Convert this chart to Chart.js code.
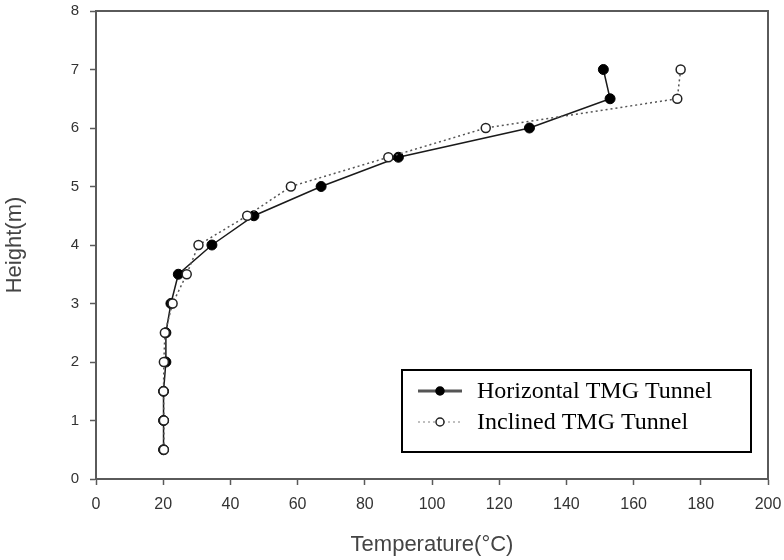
<!DOCTYPE html>
<html>
<head>
<meta charset="utf-8">
<script src="https://cdn.jsdelivr.net/npm/chart.js@4/dist/chart.umd.min.js"></script>
<style>
  html, body { margin: 0; padding: 0; background: #fff; }
  canvas { display: block; }
</style>
</head>
<body>
<canvas id="chart" width="784" height="560"></canvas>
<script>
// Heights (m) shared by both tunnels, top of the profile first
const HEIGHTS = [7, 6.5, 6, 5.5, 5, 4.5, 4, 3.5, 3, 2.5, 2, 1.5, 1, 0.5];
const HORIZONTAL_TEMP = [151, 153, 129, 90, 67, 47, 34.5, 24.5, 22.3, 20.8, 20.8, 20.1, 20.1, 20.1];
const INCLINED_TEMP = [174, 173, 116, 87, 58, 45, 30.5, 27, 22.8, 20.5, 20.2, 20.1, 20.2, 20.2];

const X_TICKS = [0, 20, 40, 60, 80, 100, 120, 140, 160, 180, 200];
const Y_TICKS = [0, 1, 2, 3, 4, 5, 6, 7, 8];

const LABELS = ['Horizontal TMG Tunnel', 'Inclined TMG Tunnel'];

const AXIS_COLOR = '#5a5a5a';
const TEXT_COLOR = '#333';

function toPoints(xs) {
  return xs.map((x, i) => ({ x, y: HEIGHTS[i] }));
}

// top and right sides of the plot frame
const frame = {
  id: 'frame',
  afterDraw(chart) {
    let { ctx, chartArea: a } = chart;
    ctx.save();
    ctx.strokeStyle = AXIS_COLOR;
    ctx.lineWidth = 2;
    ctx.beginPath();
    ctx.moveTo(a.left, a.top);
    ctx.lineTo(a.right, a.top);
    ctx.lineTo(a.right, a.bottom);
    ctx.stroke();
    ctx.restore();
  },
};

// boxed legend in the lower right, like the original figure
const boxLegend = {
  id: 'boxLegend',
  afterDraw(chart) {
    let { ctx } = chart;
    let box = { x: 402, y: 370, w: 349, h: 82 };
    ctx.save();
    ctx.fillStyle = '#fff';
    ctx.fillRect(box.x, box.y, box.w, box.h);
    ctx.strokeStyle = '#000';
    ctx.lineWidth = 2;
    ctx.strokeRect(box.x, box.y, box.w, box.h);

    ctx.font = '24px "Liberation Serif", "Times New Roman", serif';
    ctx.textBaseline = 'middle';
    ctx.fillStyle = '#000';

    chart.data.datasets.forEach((ds, i) => {
      let y = box.y + 21 + i * 31;
      ctx.save();
      ctx.strokeStyle = i === 0 ? '#555' : '#aaa';
      ctx.lineWidth = i === 0 ? 3 : 1.5;
      ctx.setLineDash(ds.borderDash || []);
      ctx.beginPath();
      ctx.moveTo(box.x + 16, y);
      ctx.lineTo(box.x + 60, y);
      ctx.stroke();
      ctx.setLineDash([]);
      ctx.beginPath();
      ctx.arc(box.x + 38, y, 4, 0, Math.PI * 2);
      ctx.fillStyle = ds.pointBackgroundColor;
      ctx.fill();
      ctx.lineWidth = 1.5;
      ctx.strokeStyle = ds.pointBorderColor;
      ctx.stroke();
      ctx.restore();
      ctx.fillText(ds.label, box.x + 75, y + 1);
    });
    ctx.restore();
  },
};

new Chart(document.getElementById('chart'), {
  type: 'scatter',
  data: {
    datasets: [
      {
        label: LABELS[0],
        data: toPoints(HORIZONTAL_TEMP),
        showLine: true,
        borderColor: '#1a1a1a',
        borderWidth: 1.5,
        pointBackgroundColor: '#000',
        pointBorderColor: '#000',
        pointBorderWidth: 1,
        pointRadius: 5,
        order: 1,
      },
      {
        label: LABELS[1],
        data: toPoints(INCLINED_TEMP),
        showLine: true,
        borderColor: '#555',
        borderWidth: 1.5,
        borderDash: [2, 3],
        pointBackgroundColor: '#fff',
        pointBorderColor: '#222',
        pointBorderWidth: 1.5,
        pointRadius: 4.5,
        order: 0,
      },
    ],
  },
  options: {
    responsive: false,
    animation: false,
    layout: { padding: { top: 11, right: 16, left: 0, bottom: 0 } },
    plugins: {
      legend: { display: false },
      tooltip: { enabled: false },
    },
    scales: {
      x: {
        type: 'linear',
        min: 0,
        max: 200,
        afterFit: scale => {
          scale.height = 81;
          scale.paddingLeft = 0;
          scale.paddingRight = 0;
        },
        afterBuildTicks: scale => { scale.ticks = X_TICKS.map(value => ({ value })); },
        grid: { drawOnChartArea: false, tickLength: 6, color: AXIS_COLOR, tickWidth: 1.5 },
        border: { color: AXIS_COLOR, width: 2 },
        ticks: {
          color: TEXT_COLOR,
          padding: 10,
          maxRotation: 0,
          font: { family: '"Liberation Sans", Arial, sans-serif', size: 16 },
        },
        title: {
          display: true,
          text: 'Temperature(°C)',
          color: '#444',
          padding: { top: 0, bottom: 2 },
          font: { family: '"Liberation Sans", Arial, sans-serif', size: 22 },
        },
      },
      y: {
        type: 'linear',
        min: 0,
        max: 8,
        afterFit: scale => {
          scale.width = 96;
          scale.paddingTop = 0;
          scale.paddingBottom = 0;
        },
        afterBuildTicks: scale => { scale.ticks = Y_TICKS.map(value => ({ value })); },
        grid: { drawOnChartArea: false, tickLength: 6, color: AXIS_COLOR, tickWidth: 1.5 },
        border: { color: AXIS_COLOR, width: 2 },
        ticks: {
          color: TEXT_COLOR,
          padding: 11,
          font: { family: '"Liberation Sans", Arial, sans-serif', size: 15 },
        },
        title: {
          display: true,
          text: 'Height(m)',
          color: '#444',
          padding: { top: 2, bottom: 0 },
          font: { family: '"Liberation Sans", Arial, sans-serif', size: 22 },
        },
      },
    },
  },
  plugins: [frame, boxLegend],
});
</script>
</body>
</html>
